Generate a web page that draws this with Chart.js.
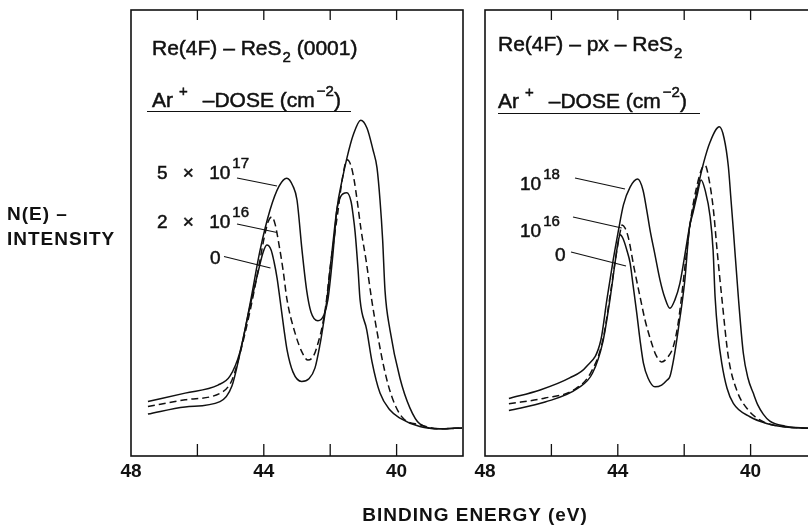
<!DOCTYPE html>
<html>
<head>
<meta charset="utf-8">
<script src="https://cdn.jsdelivr.net/npm/chart.js@4.4.7/dist/chart.umd.js"></script>
<style>
  html, body { margin: 0; padding: 0; background: #fff; }
  #wrap { position: relative; width: 808px; height: 525px; overflow: hidden; background: #fff; }
  canvas { position: absolute; top: 0; }
  .t { position: absolute; white-space: nowrap; line-height: 1; color: #111;
       font-family: "Liberation Sans", Arial, sans-serif; -webkit-text-stroke: 0.5px #111; }
  .title { font-size: 21px; }
  .dose { font-size: 19px; word-spacing: 10px; }
  .sup { font-size: 15px; position: relative; top: -11px; margin-left: 2px; }
  .sub { font-size: 15px; position: relative; top: 7px; margin-left: 1px; }
  .gap { margin-left: 15px; }
  .axis { font-size: 19px; font-weight: bold; letter-spacing: 1px; -webkit-text-stroke: 0; }
  .rule { position: absolute; height: 0; border-top: 1.5px solid #111; }
</style>
</head>
<body>
<div id="wrap">
  <canvas id="leftPanel" width="470" height="525" style="left:0"></canvas>
  <canvas id="rightPanel" width="374" height="525" style="left:466px"></canvas>

  <div class="t title" style="left:152px; top:37.2px">Re(4F) – ReS<span class="sub">2</span> (0001)</div>
  <div class="t title" style="left:152px; top:88.7px">Ar<span class="sup" style="margin-left:6px">+</span><span class="gap">–DOSE (cm</span><span class="sup">−2</span>)</div>
  <div class="rule" style="left:147px; top:111px; width:204px"></div>

  <div class="t title" style="left:498px; top:33.2px">Re(4F) – px – ReS<span class="sub">2</span></div>
  <div class="t title" style="left:498px; top:89.7px">Ar<span class="sup" style="margin-left:6px">+</span><span class="gap">–DOSE (cm</span><span class="sup">−2</span>)</div>
  <div class="rule" style="left:498px; top:112.5px; width:202px"></div>

  <div class="t axis" style="left:7px; top:203.7px">N(E) –</div>
  <div class="t axis" style="left:7px; top:228.7px">INTENSITY</div>
  <div class="t axis" style="left:275px; top:505.2px; width:400px; text-align:center">BINDING ENERGY (eV)</div>
</div>

<script>
// 横轴刻度（eV）
const tickMarks = [46, 44, 42, 40];
const tickLabels = [48, 44, 40];

// 左图 Re(4F) - ReS2 (0001)，剂量 5×10^17 / 2×10^16 / 0
const leftDoseBase = ["5 × 10", "2 × 10", "0"];
const leftDoseExp = ["17", "16", ""];

const leftHiE = [47.49, 46.37, 45.38, 45.02, 44.72, 44.42, 44.11, 43.81, 43.54, 43.31, 43.12, 43.00, 42.85, 42.71, 42.58, 42.37, 42.19, 42.07, 41.92, 41.80, 41.64, 41.49, 41.31, 41.08, 40.89, 40.71, 40.59, 40.50, 40.42, 40.35, 40.20, 39.90, 39.60, 39.30, 38.69, 38.03];
const leftHiI = [12.2, 14.1, 15.9, 17.9, 23.3, 33.9, 46.2, 55.2, 60.5, 62.3, 60.5, 57.4, 46.2, 37.2, 32.3, 30.3, 31.6, 35.0, 45.1, 55.2, 61.9, 67.0, 71.9, 75.3, 73.5, 68.6, 64.6, 57.4, 48.4, 37.2, 28.3, 17.5, 10.8, 7.2, 6.1, 6.3];

const leftMidE = [47.49, 46.37, 45.26, 44.96, 44.72, 44.42, 44.17, 43.99, 43.87, 43.76, 43.66, 43.54, 43.42, 43.30, 43.06, 42.85, 42.67, 42.49, 42.34, 42.25, 42.13, 42.01, 41.89, 41.77, 41.64, 41.49, 41.37, 41.28, 41.19, 41.07, 40.92, 40.75, 40.60, 40.35, 40.11, 39.81, 39.30, 38.69, 38.03];
const leftMidI = [11.1, 12.6, 14.3, 17.0, 22.9, 32.3, 41.7, 48.9, 52.5, 53.6, 52.0, 47.3, 41.7, 35.0, 27.6, 23.3, 21.5, 22.6, 26.0, 28.7, 33.9, 41.7, 48.4, 54.7, 61.9, 66.4, 65.0, 61.9, 57.4, 50.7, 43.9, 35.0, 28.3, 18.8, 12.6, 8.5, 7.0, 6.1, 6.3];

const leftZeroE = [47.49, 46.37, 45.32, 44.96, 44.72, 44.42, 44.17, 44.02, 43.91, 43.78, 43.69, 43.60, 43.51, 43.39, 43.30, 43.12, 42.86, 42.64, 42.46, 42.31, 42.22, 42.10, 41.98, 41.89, 41.80, 41.69, 41.50, 41.37, 41.31, 41.25, 41.16, 41.10, 40.90, 40.74, 40.50, 40.20, 39.90, 39.30, 38.69, 38.03];
const leftZeroI = [9.4, 11.0, 12.2, 15.7, 22.9, 33.4, 41.3, 45.7, 47.3, 46.2, 43.5, 39.9, 35.0, 28.3, 23.8, 18.8, 16.7, 17.3, 19.7, 24.9, 28.9, 35.0, 43.5, 49.6, 55.2, 58.1, 59.0, 57.0, 54.0, 50.2, 41.7, 35.0, 28.3, 21.1, 14.1, 10.3, 8.5, 6.6, 6.1, 6.3];

// 右图 Re(4F) - px - ReS2，剂量 10^18 / 10^16 / 0
const rightDoseBase = ["10", "10", "0"];
const rightDoseExp = ["18", "16", ""];

const rightHiE = [47.28, 46.34, 45.45, 44.95, 44.51, 44.33, 44.14, 43.99, 43.83, 43.63, 43.40, 43.24, 43.13, 43.03, 42.88, 42.73, 42.58, 42.43, 42.28, 42.13, 41.98, 41.83, 41.64, 41.42, 41.22, 40.94, 40.80, 40.67, 40.59, 40.52, 40.37, 40.22, 40.08, 39.92, 39.78, 39.62, 39.42, 38.96, 38.27];
const rightHiI = [12.9, 14.8, 17.5, 20.0, 26.0, 35.0, 43.9, 50.2, 56.3, 60.3, 62.1, 59.6, 55.2, 50.7, 45.1, 39.5, 35.4, 33.1, 35.0, 38.7, 45.1, 51.8, 58.5, 65.6, 70.4, 73.8, 71.3, 64.9, 57.4, 50.7, 35.7, 23.1, 17.5, 14.1, 11.4, 9.4, 7.8, 6.7, 6.2];

const rightMidE = [47.28, 46.19, 45.33, 44.82, 44.45, 44.23, 44.05, 43.93, 43.87, 43.78, 43.68, 43.51, 43.33, 43.18, 42.98, 42.85, 42.68, 42.49, 42.33, 42.19, 42.08, 41.91, 41.77, 41.61, 41.46, 41.37, 41.25, 41.12, 41.01, 40.87, 40.67, 40.42, 40.07, 39.62, 39.13, 38.27];
const rightMidI = [11.7, 13.0, 14.8, 18.6, 26.0, 36.1, 45.1, 50.2, 51.8, 51.1, 48.9, 42.2, 35.7, 30.5, 25.3, 22.6, 21.1, 22.2, 24.5, 29.4, 35.7, 46.9, 54.7, 60.8, 64.6, 65.2, 61.9, 55.2, 46.2, 35.7, 22.2, 14.8, 10.3, 7.7, 6.7, 6.2];

const rightZeroE = [47.28, 46.19, 45.20, 44.76, 44.45, 44.23, 44.08, 43.99, 43.93, 43.84, 43.73, 43.63, 43.54, 43.43, 43.33, 43.23, 43.09, 42.88, 42.68, 42.52, 42.43, 42.31, 42.18, 41.98, 41.85, 41.73, 41.61, 41.49, 41.37, 41.22, 41.13, 41.07, 40.98, 40.87, 40.71, 40.52, 40.02, 39.52, 38.96, 38.27];
const rightZeroI = [10.2, 12.1, 15.2, 18.6, 25.6, 35.4, 43.5, 48.0, 49.6, 48.7, 46.2, 43.3, 38.3, 32.1, 26.0, 20.9, 17.5, 15.5, 15.9, 17.0, 17.8, 22.0, 28.3, 39.5, 50.7, 54.7, 58.5, 61.9, 59.6, 53.7, 46.2, 35.7, 27.1, 20.9, 15.2, 11.8, 8.8, 7.3, 6.5, 6.2];

// 标注位置（页面像素）
const doseLayout = {
  left: [{ x: 157, cy: 172.5 }, { x: 157, cy: 221 }, { x: 210, cy: 257.5 }],
  right: [{ x: 520, cy: 183 }, { x: 520, cy: 230 }, { x: 555, cy: 254 }],
};
const leftLeaders = [[237, 178, 277, 186], [237, 224, 277, 232.5], [224, 256.5, 270.5, 268]];
const rightLeaders = [[575, 178, 625, 189], [573, 217, 621.7, 228], [571, 252, 626, 266]];

const wrap = document.getElementById("wrap");

function placeDose(base, exp, pos) {
  const d = document.createElement("div");
  d.className = "t dose";
  d.style.left = pos.x + "px";
  d.style.top = pos.cy - 0.488 * 19 + "px";
  d.innerHTML = base + (exp ? '<span class="sup">' + exp + "</span>" : "");
  wrap.appendChild(d);
}
leftDoseBase.forEach((b, i) => placeDose(b, leftDoseExp[i], doseLayout.left[i]));
rightDoseBase.forEach((b, i) => placeDose(b, rightDoseExp[i], doseLayout.right[i]));

function toPoints(es, is) {
  return es.map((e, i) => ({ x: e, y: is[i] }));
}

// 边框、向内的刻度和标注引线
const panelFrame = {
  id: "panelFrame",
  afterDatasetsDraw(chart, args, opts) {
    const { ctx, chartArea: a } = chart;
    const x = chart.scales.x;
    ctx.save();
    ctx.strokeStyle = "#111";
    ctx.lineWidth = 1.6;
    ctx.strokeRect(a.left, a.top, a.right - a.left, a.bottom - a.top);
    ctx.lineWidth = 1.3;
    tickMarks.forEach((v) => {
      const px = x.getPixelForValue(v);
      ctx.beginPath();
      ctx.moveTo(px, a.top);
      ctx.lineTo(px, a.top + 10);
      ctx.moveTo(px, a.bottom);
      ctx.lineTo(px, a.bottom - 12);
      ctx.stroke();
    });
    ctx.lineWidth = 1.2;
    (opts.leaders || []).forEach(([x1, y1, x2, y2]) => {
      ctx.beginPath();
      ctx.moveTo(x1 - opts.offset, y1);
      ctx.lineTo(x2 - opts.offset, y2);
      ctx.stroke();
    });
    ctx.restore();
  },
};

function makePanel(canvasId, curves, leaders, offset, padLeft, padRight) {
  const styles = [[], [7, 4], []];
  return new Chart(document.getElementById(canvasId), {
    type: "line",
    data: {
      datasets: curves.map((c, i) => ({
        data: toPoints(c[0], c[1]),
        borderColor: "#111",
        borderWidth: 1.5,
        borderDash: styles[i],
        pointRadius: 0,
        fill: false,
        cubicInterpolationMode: "monotone",
      })),
    },
    options: {
      responsive: false,
      animation: false,
      devicePixelRatio: 1,
      layout: { padding: { left: padLeft, right: padRight, top: 10, bottom: 0 } },
      plugins: {
        legend: { display: false },
        tooltip: { enabled: false },
        panelFrame: { leaders: leaders, offset: offset },
      },
      scales: {
        x: {
          type: "linear",
          reverse: true,
          min: 38,
          max: 48,
          grid: { display: false, drawTicks: false },
          border: { display: false },
          ticks: {
            stepSize: 2,
            padding: 4,
            maxRotation: 0,
            autoSkip: false,
            color: "#111",
            font: { family: "Liberation Sans", size: 19, weight: "bold" },
            callback: (v) => (tickLabels.includes(v) ? String(v) : ""),
          },
          afterFit: (scale) => {
            scale.height = 69;
            scale.paddingLeft = 0;
            scale.paddingRight = 0;
          },
        },
        y: { display: false, min: 0, max: 100 },
      },
    },
    plugins: [panelFrame],
  });
}

makePanel(
  "leftPanel",
  [[leftHiE, leftHiI], [leftMidE, leftMidI], [leftZeroE, leftZeroI]],
  leftLeaders, 0, 131, 7
);
makePanel(
  "rightPanel",
  [[rightHiE, rightHiI], [rightMidE, rightMidI], [rightZeroE, rightZeroI]],
  rightLeaders, 466, 19, 23
);
</script>
</body>
</html>
